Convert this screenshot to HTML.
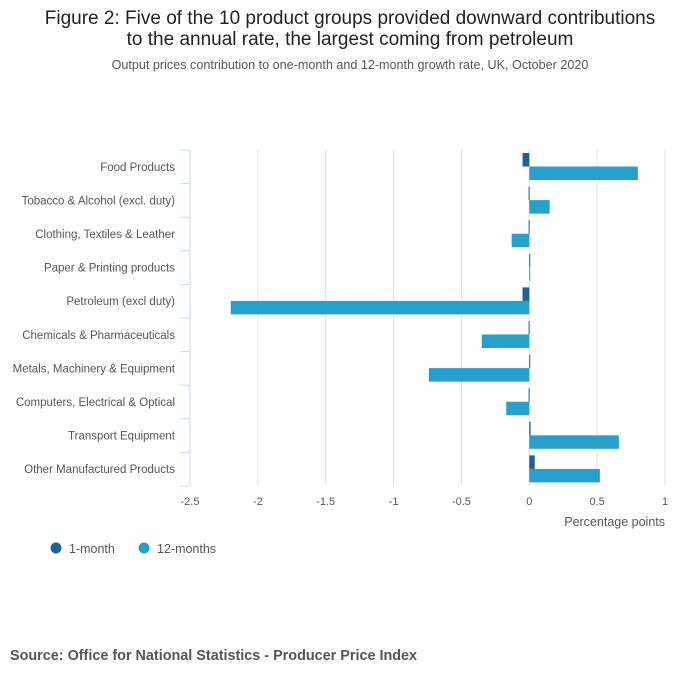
<!DOCTYPE html>
<html><head><meta charset="utf-8"><style>
body{margin:0;background:#fff;font-family:"Liberation Sans",sans-serif;}
</style></head><body>
<svg width="700" height="682" xmlns="http://www.w3.org/2000/svg">
<text x="350" y="24" text-anchor="middle" font-size="19" fill="#222">Figure 2: Five of the 10 product groups provided downward contributions</text>
<text x="350" y="45" text-anchor="middle" font-size="19" fill="#222">to the annual rate, the largest coming from petroleum</text>
<text x="350" y="69" text-anchor="middle" font-size="12.6" fill="#555">Output prices contribution to one-month and 12-month growth rate, UK, October 2020</text>
<g id="grid"></g><g id="bars"></g><g id="axes"></g>
<text x="665" y="526" text-anchor="end" font-size="12.5" fill="#555">Percentage points</text>
<circle cx="56" cy="548" r="5.5" fill="#206095"/>
<text x="69" y="553" font-size="12.5" fill="#555">1-month</text>
<circle cx="144" cy="548" r="5.5" fill="#27a0cc"/>
<text x="157" y="553" font-size="12.5" fill="#555">12-months</text>
<text x="10" y="660" font-size="14.4" font-weight="bold" fill="#555">Source: Office for National Statistics - Producer Price Index</text>
</svg>
<script>
const categories=["Food Products","Tobacco & Alcohol (excl. duty)","Clothing, Textiles & Leather","Paper & Printing products","Petroleum (excl duty)","Chemicals & Pharmaceuticals","Metals, Machinery & Equipment","Computers, Electrical & Optical","Transport Equipment","Other Manufactured Products"];
const oneMonth=[-0.05,-0.005,-0.005,0.005,-0.05,-0.005,0.005,-0.005,0.01,0.04];
const twelveMonths=[0.80,0.15,-0.13,0.005,-2.2,-0.35,-0.74,-0.17,0.66,0.52];
const ticks=[-2.5,-2,-1.5,-1,-0.5,0,0.5,1];
const tickLabels=["-2.5","-2","-1.5","-1","-0.5","0","0.5","1"];
const NS="http://www.w3.org/2000/svg";
const x=v=>190+(v+2.5)*(475/3.5);
const top0=150,band=33.6;
const y=i=>top0+i*band;
function mk(t,a,p){const e=document.createElementNS(NS,t);for(const k in a)e.setAttribute(k,a[k]);p.appendChild(e);return e;}
const g=document.getElementById('grid'),b=document.getElementById('bars'),ax=document.getElementById('axes');
ticks.forEach((t,i)=>{
 if(t!==-2.5){const l=mk('line',{x1:x(t),x2:x(t),y1:top0,y2:top0+band*10,stroke:'#e0e0e0','stroke-width':1},g);
 
 }
 const tx=mk('text',{x:x(t),y:505,'text-anchor':'middle','font-size':11,fill:'#555'},ax);
 tx.textContent=tickLabels[i];
 
 
});
const al=mk('line',{x1:190,x2:190,y1:top0,y2:top0+band*10,stroke:'#ccd6eb'},ax);


for(let i=0;i<=10;i++){const tk=mk('line',{x1:180,x2:190,y1:y(i),y2:y(i),stroke:'#ccd6eb'},ax);
 
 }
categories.forEach((c,i)=>{
 const t=mk('text',{x:175,y:y(i)+band/2+4,'text-anchor':'end','font-size':11.5,fill:'#555'},ax);
 t.textContent=c;
 
 
 const v1=oneMonth[i],v2=twelveMonths[i];
 const r1=mk('rect',{x:Math.min(x(0),x(v1)),y:y(i)+3,width:Math.max(1,Math.abs(x(v1)-x(0))),height:13.5,fill:'#206095'},b);
 
 
 const r2=mk('rect',{x:Math.min(x(0),x(v2)),y:y(i)+16.5,width:Math.max(1,Math.abs(x(v2)-x(0))),height:13.5,fill:'#27a0cc'},b);
 
 
});
</script>
</body></html>
